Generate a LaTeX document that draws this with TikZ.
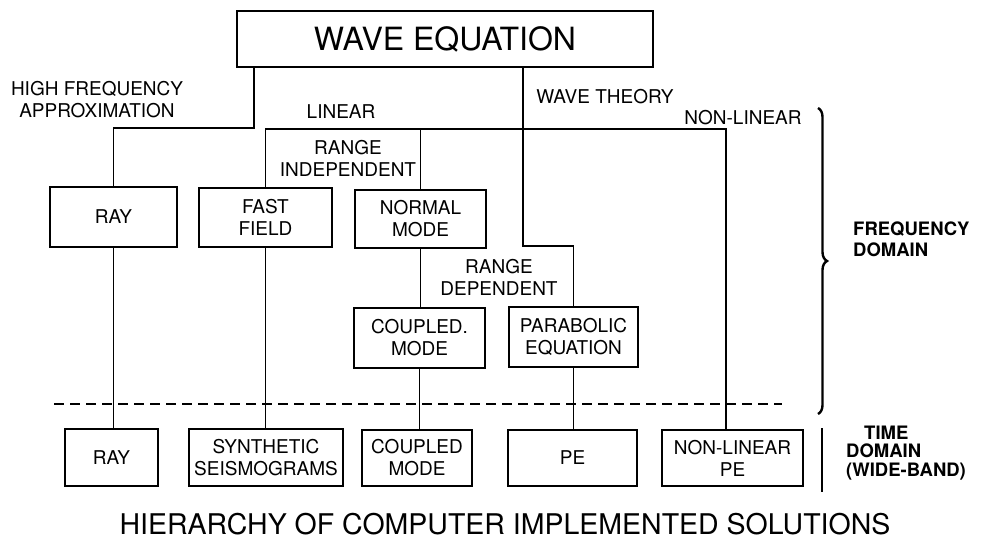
\documentclass[tikz,border=0pt]{standalone}
\usepackage{fontspec}
\setmainfont{TeX Gyre Heros}
\usetikzlibrary{decorations.pathreplacing}
\newcommand\lblfont{\fontsize{19}{22}\selectfont}
\newcommand\sidefont{\fontsize{18.5}{21}\selectfont\bfseries}
\begin{document}
\begin{tikzpicture}[x=1pt,y=-1pt,
  box/.style={draw,line width=1.8pt,inner sep=0pt,align=center,font=\lblfont},
  conn/.style={line width=1.4pt},
  lbl/.style={inner sep=0pt,align=center,font=\lblfont}]
\useasboundingbox (0,0) rectangle (984,541);
% boxes
\node[box,minimum width=416pt,minimum height=56pt,font=\fontsize{32}{36}\selectfont] (wave) at (445,39) {WAVE EQUATION};
\node[box,minimum width=127pt,minimum height=60pt] (ray1) at (113.5,217) {RAY};
\node[box,minimum width=133pt,minimum height=59pt] (ff) at (265.5,217.5) {FAST\\FIELD};
\node[box,minimum width=131pt,minimum height=58pt] (nm) at (420.5,219) {NORMAL\\MODE};
\node[box,minimum width=131pt,minimum height=60pt] (cm1) at (419.5,338) {COUPLED.\\MODE};
\node[box,minimum width=129pt,minimum height=60pt] (pe1) at (573.5,337) {PARABOLIC\\EQUATION};
\node[box,minimum width=93pt,minimum height=57pt] (ray2) at (111.5,457.5) {RAY};
\node[box,minimum width=154pt,minimum height=57pt] (syn) at (266,457.5) {SYNTHETIC\\SEISMOGRAMS};
\node[box,minimum width=110pt,minimum height=56pt] (cm2) at (417,458) {COUPLED\\MODE};
\node[box,minimum width=129pt,minimum height=56pt] (pe2) at (572.5,458) {PE};
\node[box,minimum width=141pt,minimum height=56pt] (nlpe) at (732.5,458) {NON-LINEAR\\PE};
% coordinates
\coordinate (hf) at (254,128);
\coordinate (wt) at (523,246);
\coordinate (nl) at (726,129);
\coordinate (dl) at (54,404);
\coordinate (dr) at (782,404);
\coordinate (bt) at (818,108);
\coordinate (bb) at (818,414);
\coordinate (tt) at (822,428);
\coordinate (tb) at (822,492);
% connectors
\draw[conn] (hf |- wave.south) -- (hf) -| (ray1.north);
\draw[conn] (wt |- wave.south) -- (wt) -| (pe1.north);
\draw[conn] (ff.north) |- (nl) -- (nl |- nlpe.north);
\draw[conn] (nm.north |- nl) -- (nm.north);
\draw[conn] (ray1.south) -- (ray1.south |- ray2.north);
\draw[conn] (ff.south) -- (ff.south |- syn.north);
\draw[conn] (nm.south) -- (nm.south |- cm1.north);
\draw[conn] (cm1.south) -- (cm1.south |- cm2.north);
\draw[conn] (pe1.south) -- (pe1.south |- pe2.north);
\draw[line width=1.6pt,dash pattern=on 10pt off 6pt] (dl) -- (dr);
\draw[line width=2.4pt,decorate,decoration={brace,amplitude=9pt}] (bt) -- (bb);
\draw[line width=1.5pt] (tt) -- (tb);
% labels
\node[lbl] (hfa) at (97,100) {HIGH FREQUENCY\\APPROXIMATION};
\node[lbl] (lin) at (341,112) {LINEAR};
\node[lbl] (ri) at (348,158) {RANGE\\INDEPENDENT};
\node[lbl] (rd) at (499,277) {RANGE\\DEPENDENT};
\node[lbl] (wth) at (605,97) {WAVE THEORY};
\node[lbl] (nlin) at (743,118) {NON-LINEAR};
\node[lbl,font=\sidefont,align=left,anchor=west] (fd) at (853,239) {FREQUENCY\\DOMAIN};
\node[lbl,font=\sidefont,align=left,anchor=west] (td) at (846,453) {\hspace*{18pt}TIME\\[-3pt]DOMAIN\\[-2pt](WIDE-BAND)};
\node[lbl,font=\fontsize{28.5}{32}\selectfont] (title) at (505,524) {HIERARCHY OF COMPUTER IMPLEMENTED SOLUTIONS};
\end{tikzpicture}
\end{document}
